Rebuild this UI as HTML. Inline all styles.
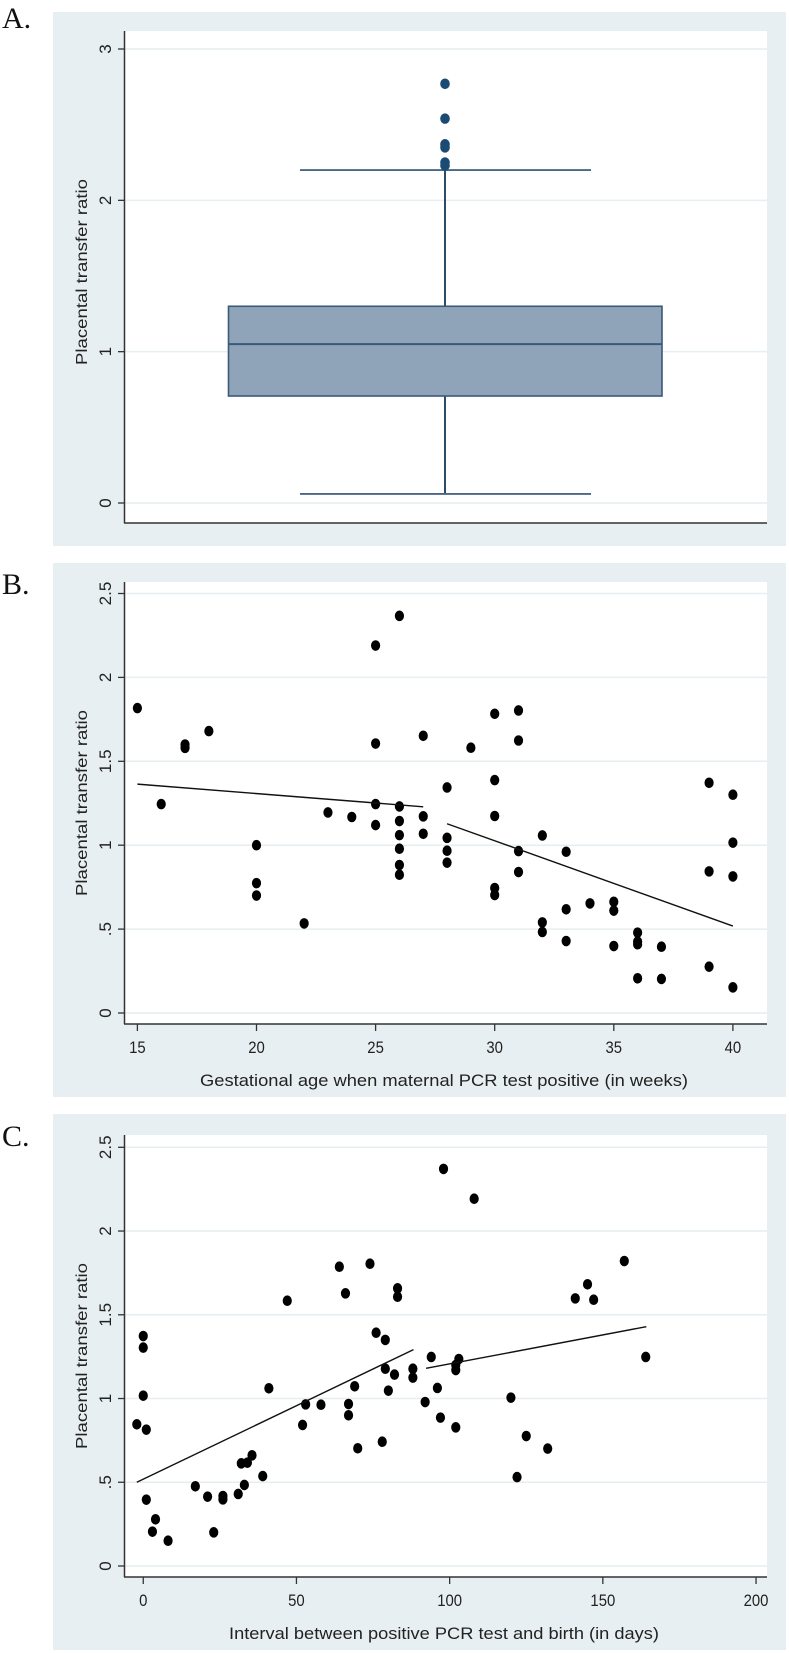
<!DOCTYPE html>
<html><head><meta charset="utf-8">
<style>
html,body{margin:0;padding:0;background:#fff;}
svg{display:block;}
text{font-family:"Liberation Sans",Arial,sans-serif;fill:#222;}
</style></head>
<body>
<svg id="fig" width="789" height="1653" viewBox="0 0 789 1653" xmlns="http://www.w3.org/2000/svg"></svg>
<script>
// ---------- Panel A data (box plot) ----------
const aTicks = [0, 1, 2, 3];
const aTickLabels = ["0", "1", "2", "3"];
const aBoxStats = [0.06, 0.707, 1.05, 1.30, 2.20]; // min, q1, median, q3, max
const aOutliers = [2.77, 2.54, 2.37, 2.35, 2.25, 2.23];

// ---------- Panel B data ----------
const bTicksY = [0, 0.5, 1, 1.5, 2, 2.5];
const bTickLabelsY = ["0", ".5", "1", "1.5", "2", "2.5"];
const bTicksX = [15, 20, 25, 30, 35, 40];
const bX = [15,16,17,17,18,20,20,20,22,23,24,25,25,25,25,26,26,26,26,26,26,26,27,27,27,28,28,28,28,29,30,30,30,30,30,31,31,31,31,32,32,32,33,33,33,34,35,35,35,36,36,36,36,37,37,39,39,39,40,40,40,40];
const bY = [1.817,1.245,1.60,1.58,1.68,1.00,0.774,0.70,0.534,1.195,1.168,2.19,1.606,1.245,1.12,2.367,1.231,1.144,1.06,0.979,0.882,0.824,1.652,1.172,1.068,1.344,1.044,0.967,0.896,1.581,1.783,1.388,1.174,0.745,0.703,1.803,1.624,0.965,0.840,1.058,0.540,0.483,0.961,0.618,0.429,0.653,0.663,0.610,0.399,0.479,0.425,0.41,0.207,0.395,0.203,1.372,0.844,0.276,1.301,1.015,0.814,0.153];
const bFitX = [[15, 27], [28, 40]];
const bFitY = [[1.364, 1.229], [1.128, 0.518]];

// ---------- Panel C data ----------
const cTicksY = [0, 0.5, 1, 1.5, 2, 2.5];
const cTickLabelsY = ["0", ".5", "1", "1.5", "2", "2.5"];
const cTicksX = [0, 50, 100, 150, 200];
const cX = [-2.1,0,0,0,1,1,3,4,8.1,17,21,23,26,26,31,32,33,34,35.5,39,41,47,52,53,58,64,66,67,67,69,70,74,76,78,79,79,80,82,83,83,88,88,92,94,96,97,98,102,102,102,103,108,120,122,125,132,141,145,147,157,164];
const cY = [0.846,1.373,1.304,1.017,0.814,0.396,0.205,0.279,0.151,0.476,0.414,0.201,0.418,0.398,0.430,0.613,0.484,0.617,0.661,0.537,1.061,1.584,0.842,0.965,0.963,1.787,1.628,0.967,0.90,1.073,0.703,1.805,1.393,0.742,1.35,1.178,1.047,1.143,1.658,1.608,1.178,1.125,0.979,1.248,1.063,0.886,2.371,0.828,1.170,1.200,1.236,2.193,1.005,0.531,0.776,0.701,1.598,1.682,1.590,1.821,1.248];
const cFitX = [[-2.1, 88.2], [92.3, 164.2]];
const cFitY = [[0.50, 1.292], [1.18, 1.429]];

const NS = "http://www.w3.org/2000/svg";
const svg = document.getElementById("fig");
function mk(tag, attrs, parent) {
  const e = document.createElementNS(NS, tag);
  for (const k in attrs) e.setAttribute(k, attrs[k]);
  (parent || svg).appendChild(e);
  return e;
}
function lin(d0, d1, r0, r1) { return v => r0 + (v - d0) / (d1 - d0) * (r1 - r0); }

function panelFrame(g, top, bottom, plotTop, axisY, label, labelY) {
  const bg = mk("rect", {x: 53, y: top, width: 733, height: bottom - top, fill: "#e8eff2"}, g);
  
  
  const pa = mk("rect", {x: 124, y: plotTop, width: 643, height: axisY - plotTop, fill: "#ffffff"}, g);
  
  
  const pl = mk("text", {x: 2, y: labelY, "font-size": 30, style: "font-family:'Liberation Serif',serif;fill:#111"}, g);
  pl.textContent = label;
  
  
}
function yAxis(g, ticks, labels, ys, plotTop, axisY, titleY) {
  ticks.forEach((t, i) => {
    const y = ys(t);
    const gl = mk("line", {x1: 125, x2: 767, y1: y, y2: y, stroke: "#e6eef1", "stroke-width": 1.5}, g);
    
    
    const tk = mk("line", {x1: 118, x2: 125, y1: y, y2: y, stroke: "#333", "stroke-width": 1.3}, g);
    
    
    const tl = mk("text", {x: 0, y: 0, "font-size": 17, "text-anchor": "middle", transform: `translate(111,${y}) rotate(-90)`}, g);
    tl.textContent = labels[i];
    
    
  });
  const ax = mk("line", {x1: 124.5, x2: 124.5, y1: plotTop, y2: axisY, stroke: "#333", "stroke-width": 1.5}, g);
  
  
  const yt = mk("text", {x: 0, y: 0, "font-size": 16, "text-anchor": "middle", textLength: 186, lengthAdjust: "spacingAndGlyphs", transform: `translate(87,${titleY}) rotate(-90)`}, g);
  yt.textContent = "Placental transfer ratio";
  
  
}
function xAxis(g, axisY) {
  const ax = mk("line", {x1: 124, x2: 767, y1: axisY, y2: axisY, stroke: "#333", "stroke-width": 1.5}, g);
  
  
}
function xTicks(g, ticks, xs, axisY, title, titleW) {
  ticks.forEach(t => {
    const x = xs(t);
    const tk = mk("line", {x1: x, x2: x, y1: axisY, y2: axisY + 7, stroke: "#333", "stroke-width": 1.3}, g);
    
    
    const tl = mk("text", {x: x, y: axisY + 29, "font-size": 17, "text-anchor": "middle", textLength: String(t).length * 8.3, lengthAdjust: "spacingAndGlyphs"}, g);
    tl.textContent = String(t);
    
    
  });
  const xt = mk("text", {x: 444, y: axisY + 62, "font-size": 17, "text-anchor": "middle", textLength: titleW, lengthAdjust: "spacingAndGlyphs"}, g);
  xt.textContent = title;
  
  
}
function scatter(g, xsArr, ysArr, xs, ys, fx, fy) {
  xsArr.forEach((v, i) => {
    const d = mk("ellipse", {cx: xs(v), cy: ys(ysArr[i]), rx: 4.6, ry: 5.3, fill: "#000"}, g);
    
    
  });
  fx.forEach((seg, i) => {
    const l = mk("line", {x1: xs(seg[0]), x2: xs(seg[1]), y1: ys(fy[i][0]), y2: ys(fy[i][1]), stroke: "#111", "stroke-width": 1.4}, g);
    
    
  });
}

// ===== Panel A =====
const gA = mk("g", {});


panelFrame(gA, 12, 546, 31, 523, "A.", 28);
const yA = lin(0, 3, 503, 49);
yAxis(gA, aTicks, aTickLabels, yA, 31, 523, 272);
xAxis(gA, 523);
const cxA = 445;
const wl = mk("line", {x1: cxA, x2: cxA, y1: yA(aBoxStats[0]), y2: yA(aBoxStats[4]), stroke: "#2b4b69", "stroke-width": 2}, gA);


[aBoxStats[0], aBoxStats[4]].forEach(v => {
  const c = mk("line", {x1: 300, x2: 591, y1: yA(v), y2: yA(v), stroke: "#4a6685", "stroke-width": 1.8}, gA);
  
  
});
const box = mk("rect", {x: 228.5, y: yA(aBoxStats[3]), width: 433.5, height: yA(aBoxStats[1]) - yA(aBoxStats[3]), fill: "#8fa4b9", stroke: "#3a5a7a", "stroke-width": 1.6}, gA);


const med = mk("line", {x1: 228.5, x2: 662, y1: yA(aBoxStats[2]), y2: yA(aBoxStats[2]), stroke: "#3a5a7a", "stroke-width": 2}, gA);


aOutliers.forEach(v => {
  const o = mk("ellipse", {cx: cxA, cy: yA(v), rx: 4.8, ry: 5.3, fill: "#1b4a73"}, gA);
  
  
});

// ===== Panel B =====
const gB = mk("g", {});


panelFrame(gB, 563, 1097, 582, 1024, "B.", 594);
const yB = lin(0, 2.5, 1013, 593.5);
const xB = lin(15, 40, 137.4, 732.9);
yAxis(gB, bTicksY, bTickLabelsY, yB, 582, 1024, 803);
xAxis(gB, 1024);
xTicks(gB, bTicksX, xB, 1024, "Gestational age when maternal PCR test positive (in weeks)", 488);
scatter(gB, bX, bY, xB, yB, bFitX, bFitY);

// ===== Panel C =====
const gC = mk("g", {});


panelFrame(gC, 1114, 1650, 1135, 1577, "C.", 1146);
const yC = lin(0, 2.5, 1566, 1147.3);
const xC = lin(0, 200, 110 + 79 / 2.376, 110 + 1535 / 2.376);
yAxis(gC, cTicksY, cTickLabelsY, yC, 1135, 1577, 1356);
xAxis(gC, 1577);
xTicks(gC, cTicksX, xC, 1577, "Interval between positive PCR test and birth (in days)", 430);
scatter(gC, cX, cY, xC, yC, cFitX, cFitY);
</script>
</body></html>
